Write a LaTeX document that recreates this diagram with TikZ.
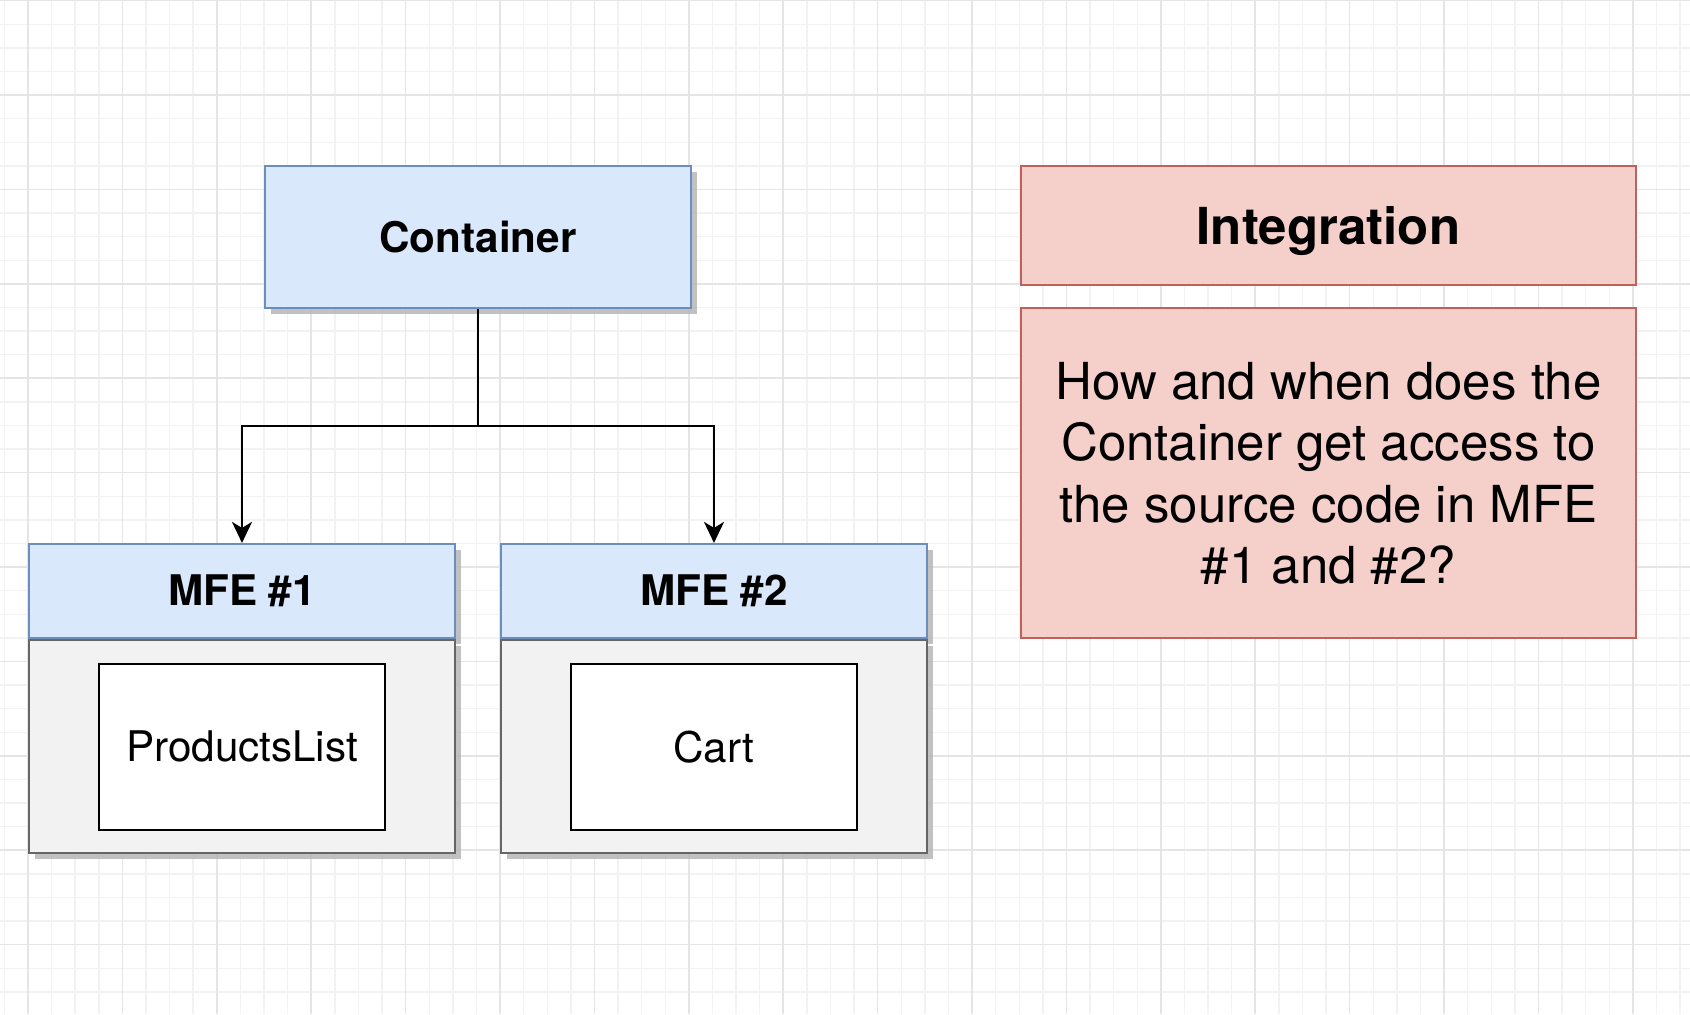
\documentclass[tikz,border=0pt]{standalone}
\usepackage{fontspec}
\setmainfont{TeX Gyre Heros}
\usetikzlibrary{positioning, arrows.meta, shadows}

\definecolor{mfeBlue}{HTML}{DAE8FC}
\definecolor{mfeBlueLine}{HTML}{6C8EBF}
\definecolor{bodyGray}{HTML}{F2F2F2}
\definecolor{bodyGrayLine}{HTML}{666666}
\definecolor{noteRed}{HTML}{F5D0CB}
\definecolor{noteRedLine}{HTML}{C0605A}

\tikzset{
  > = {Stealth[length = 2.1mm, width = 2mm, inset = 0.6mm]},
  gridminor/.style = {draw = black!5, line width = 0.4pt},
  gridmajor/.style = {draw = black!10, line width = 0.5pt},
  lifted/.style = {drop shadow = {shadow xshift = 0.6mm, shadow yshift = -0.6mm,
    fill = black!30, opacity = 0.8}},
  box/.style = {draw, line width = 0.6pt, inner sep = 3pt, align = center},
  title/.style = {box, lifted, fill = mfeBlue, draw = mfeBlueLine,
    font = \bfseries\fontsize{12}{14}\selectfont},
  mfebody/.style = {box, lifted, fill = bodyGray, draw = bodyGrayLine,
    minimum width = 4.26cm, minimum height = 2.13cm},
  component/.style = {box, fill = white, draw = black,
    minimum width = 2.85cm, minimum height = 1.66cm, font = \fontsize{12}{14}\selectfont},
  note/.style = {box, fill = noteRed, draw = noteRedLine, minimum width = 6.15cm},
  flow/.style = {->, line width = 0.7pt}
}

\begin{document}
\begin{tikzpicture}[x = 0.01cm, y = -0.01cm]

\useasboundingbox (0,0) rectangle (1690,1014);
\fill [white] (0,0) rectangle (1690,1014);

% background grid
\foreach \i in {0,...,71} \draw [gridminor] ({4.4+23.6*\i},0) -- ({4.4+23.6*\i},1014);
\foreach \i in {0,...,42} \draw [gridminor] (0,{0.6+23.6*\i}) -- (1690,{0.6+23.6*\i});
\foreach \i in {0,...,17} \draw [gridmajor] ({28+94.4*\i},0) -- ({28+94.4*\i},1014);
\foreach \i in {0,...,10} \draw [gridmajor] (0,{0.6+94.4*\i}) -- (1690,{0.6+94.4*\i});

\node [title, minimum width = 4.26cm, minimum height = 1.42cm] (container) at (478,237) {Container};

\node [title, minimum width = 4.26cm, minimum height = 0.94cm] (mfe1) at (242,591) {MFE \#1};
\node [mfebody] (mfe1body) [below = 0pt of mfe1] {};
\node [component] (products) at (mfe1body) {ProductsList};

\node [title, minimum width = 4.26cm, minimum height = 0.94cm] (mfe2) at (714,591) {MFE \#2};
\node [mfebody] (mfe2body) [below = 0pt of mfe2] {};
\node [component] (cart) at (mfe2body) {Cart};

\coordinate (split) at (478,426);
\draw [flow] (container) -- (split) -| (mfe1);
\draw [flow] (split) -| (mfe2);

\node [note, minimum height = 1.19cm, text depth = 0pt, font = \bfseries\fontsize{14.5}{17}\selectfont] (integration) at (1328.5,225.5) {Integration};
\node [note, minimum height = 3.30cm, font = \fontsize{14.5}{17.5}\selectfont] (question) [below = 0.21cm of integration]
  {How and when does the\\Container get access to\\the source code in MFE\\\#1 and \#2?};

\end{tikzpicture}
\end{document}
